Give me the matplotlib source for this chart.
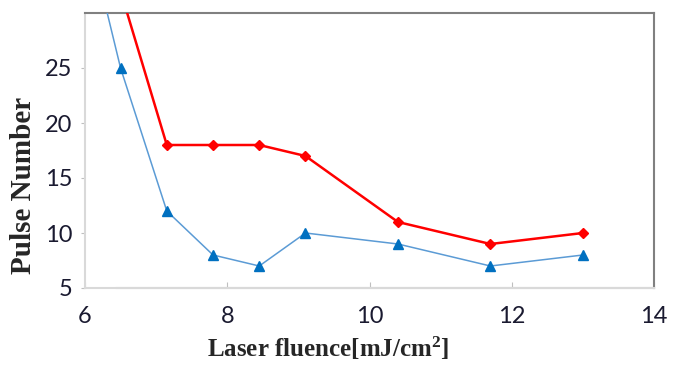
import matplotlib
matplotlib.use("Agg")
import matplotlib.pyplot as plt

fluence = [6.5, 7.15, 7.8, 8.45, 9.1, 10.4, 11.7, 13.0]
red_pulses = [32, 18, 18, 18, 17, 11, 9, 10]
blue_x = [6.2, 6.5, 7.15, 7.8, 8.45, 9.1, 10.4, 11.7, 13.0]
blue_pulses = [33, 25, 12, 8, 7, 10, 9, 7, 8]
xticks = [6, 8, 10, 12, 14]
yticks = [5, 10, 15, 20, 25]

plt.rcParams["mathtext.fontset"] = "custom"
plt.rcParams["mathtext.rm"] = "Liberation Serif:bold"
plt.rcParams["mathtext.it"] = "Liberation Serif:bold"
plt.rcParams["mathtext.bf"] = "Liberation Serif:bold"

fig = plt.figure(figsize=(6.73, 3.65), dpi=100)
ax = fig.add_axes([85/673, 1-288/365, (654-85)/673, (288-13)/365])

ax.plot(blue_x, blue_pulses, color="#5B9BD5", lw=1.1, marker="^", ms=6.5,
        mfc="#0070C0", mec="#0070C0", zorder=3)
ax.plot(fluence, red_pulses, color="#FF0000", lw=1.8, marker="D", ms=5,
        mfc="#FF0000", mec="#FF0000", zorder=4)

ax.set_xlim(6, 14)
ax.set_ylim(5, 30)
ax.set_xticks(xticks)
ax.set_yticks(yticks)

for lab in ax.get_xticklabels() + ax.get_yticklabels():
    lab.set_fontfamily(["Lato", "DejaVu Sans"])
    lab.set_fontsize(17)
    lab.set_color("#1a1a30")

ax.tick_params(axis="x", direction="in", length=4, color="#BFBFBF", pad=13)
ax.tick_params(axis="y", direction="out", length=3, color="#BFBFBF", pad=6)

for side in ["left", "bottom"]:
    ax.spines[side].set_color("#D9D9D9")
    ax.spines[side].set_linewidth(1.5)
for side in ["top", "right"]:
    ax.spines[side].set_color("#808080")
    ax.spines[side].set_linewidth(1.5)
ax.axhline(5, xmin=0.056, xmax=1, color="#BFBFBF", lw=1.5, clip_on=False, zorder=2.5)

ax.set_xlabel("Laser fluence[mJ/cm$^2$]", family="Liberation Serif", fontsize=18,
              color="#262626", fontweight="bold")
ax.set_ylabel("Pulse Number", family="Liberation Serif", fontsize=21,
              color="#262626", fontweight="bold")
ax.xaxis.set_label_coords(0.427, -0.17)
ax.yaxis.set_label_coords(-0.085, 0.373)

fig.savefig("out.png", dpi=100)
